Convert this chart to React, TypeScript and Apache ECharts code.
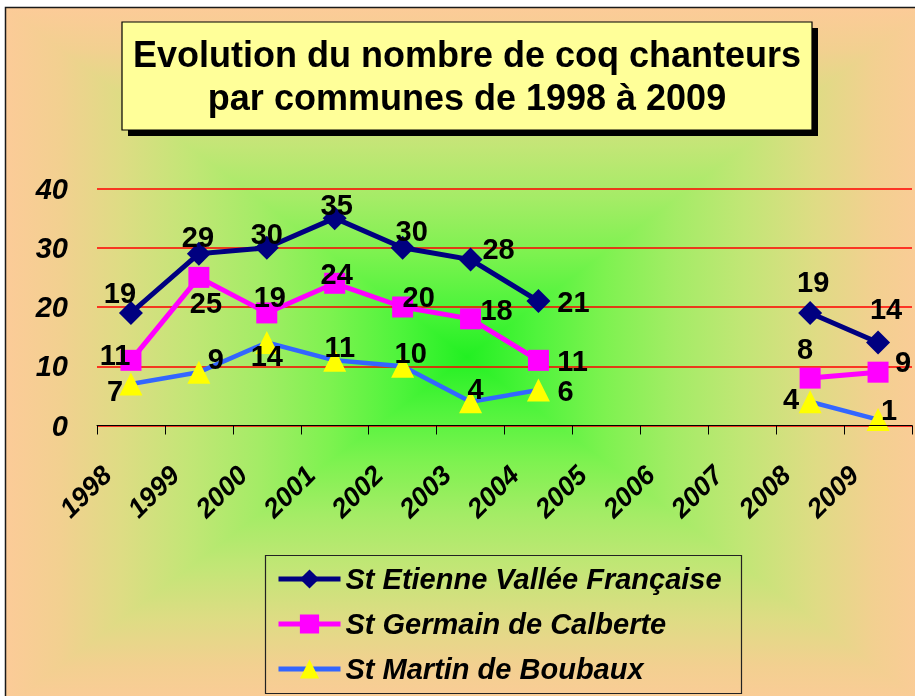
import React, { useEffect, useRef } from "react";
import * as echarts from "echarts";

const categories = ["1998", "1999", "2000", "2001", "2002", "2003", "2004", "2005", "2006", "2007", "2008", "2009"];
const etienne: (number | null)[] = [19, 29, 30, 35, 30, 28, 21, null, null, null, 19, 14];
const germain: (number | null)[] = [11, 25, 19, 24, 20, 18, 11, null, null, null, 8, 9];
const martin: (number | null)[] = [7, 9, 14, 11, 10, 4, 6, null, null, null, 4, 1];
const seriesNames = ["St Etienne Vallée Française", "St Germain de Calberte", "St Martin de Boubaux"];
const titleLines = ["Evolution du nombre de coq chanteurs", "par communes de 1998 à 2009"];

// label placement offsets (px) relative to each marker centre
const etienneOffsets = [[-11, -20], [-1, -17], [0, -14], [2, -13], [9, -17], [28, -11], [35, 1], null, null, null, [3, -31], [8, -34]];
const germainOffsets = [[-16, -5], [7, 26], [3, -16], [2, -9], [16, -10], [26, -9], [34, 1], null, null, null, [-5, -29], [25, -10]];
const martinOffsets = [[-16, 7], [17, -13], [0, 13.5], [5, -13], [8, -13], [5, -13], [27, 1], null, null, null, [-19, -3], [11, -10]];

const FONT = "'Liberation Sans', Arial, Helvetica, sans-serif";

// rectangular "from centre" gradient: edge -> centre
const edgeToCentre = [
  { offset: 0, color: "#FCCB98" },
  { offset: 0.12, color: "#F2D090" },
  { offset: 0.25, color: "#DEDC84" },
  { offset: 0.4, color: "#C2E676" },
  { offset: 0.55, color: "#A4EC66" },
  { offset: 0.7, color: "#7EF250" },
  { offset: 0.85, color: "#50F43C" },
  { offset: 1, color: "#22F022" },
];

function buildData(values: (number | null)[], offs: (number[] | null)[]) {
  return values.map((v, i) =>
    v == null ? "-" : { value: v, label: { offset: offs[i] as number[] } }
  );
}

export default function App() {
  const ref = useRef<HTMLDivElement>(null);
  useEffect(() => {
    if (!ref.current) return;
    const chart = echarts.init(ref.current, null, { renderer: "svg" });
    const x0 = 5, y0 = 7, x1 = 929, y1 = 707;
    const cx = (x0 + x1) / 2, cy = (y0 + y1) / 2;
    const mirrored = [
      ...edgeToCentre.map((s) => ({ offset: s.offset / 2, color: s.color })),
      ...edgeToCentre.slice(0, -1).reverse().map((s) => ({ offset: 1 - s.offset / 2, color: s.color })),
    ];
    const centreToEdge = edgeToCentre.slice().reverse().map((s) => ({ offset: 1 - s.offset, color: s.color }));

    const labelBase = {
      show: true,
      position: "inside",
      align: "center",
      verticalAlign: "middle",
      color: "#000",
      fontSize: 29,
      fontWeight: "bold",
      fontFamily: FONT,
      formatter: "{c}",
    };

    const option: any = {
      animation: false,
      textStyle: { fontFamily: FONT },
      graphic: [
        {
          type: "rect",
          z: -10,
          shape: { x: x0, y: y0, width: x1 - x0, height: y1 - y0 },
          style: {
            fill: { type: "linear", x: 0, y: 0, x2: 1, y2: 0, colorStops: mirrored },
            stroke: "none",
          },
        },
        {
          type: "polygon",
          z: -9,
          shape: { points: [[x0, y0], [x1, y0], [cx, cy]] },
          style: { fill: { type: "linear", x: 0, y: 0, x2: 0, y2: 1, colorStops: edgeToCentre } },
        },
        {
          type: "polygon",
          z: -9,
          shape: { points: [[x0, y1], [x1, y1], [cx, cy]] },
          style: { fill: { type: "linear", x: 0, y: 0, x2: 0, y2: 1, colorStops: centreToEdge } },
        },
        {
          type: "rect",
          z: -8,
          shape: { x: x0 + 0.5, y: y0 + 0.5, width: x1 - x0, height: y1 - y0 },
          style: { fill: "none", stroke: "#1a1a1a", lineWidth: 1.5 },
        },
        {
          type: "rect",
          z: 10,
          shape: { x: 128, y: 28, width: 690, height: 108 },
          style: { fill: "#000" },
        },
        {
          type: "rect",
          z: 11,
          shape: { x: 122, y: 22, width: 690, height: 108 },
          style: { fill: "#FFFF99", stroke: "#000", lineWidth: 1.2 },
        },
        {
          type: "text",
          z: 12,
          x: 467,
          y: 54,
          style: {
            text: titleLines[0],
            align: "center",
            verticalAlign: "middle",
            fill: "#000",
            fontSize: 36,
            fontWeight: "bold",
            fontFamily: FONT,
          },
        },
        {
          type: "text",
          z: 12,
          x: 467,
          y: 97,
          style: {
            text: titleLines[1],
            align: "center",
            verticalAlign: "middle",
            fill: "#000",
            fontSize: 36,
            fontWeight: "bold",
            fontFamily: FONT,
          },
        },
        {
          type: "rect",
          z: 5,
          shape: { x: 265.5, y: 555.5, width: 476, height: 138 },
          style: { fill: "none", stroke: "#222", lineWidth: 1.2 },
        },
      ],
      grid: { left: 97, right: 3, top: 188.5, bottom: 270.5, containLabel: false },
      legend: {
        orient: "vertical",
        left: 276,
        top: 564.5,
        itemWidth: 62,
        itemHeight: 24,
        itemGap: 16,
        padding: 0,
        data: seriesNames,
        lineStyle: { width: 5 },
        textStyle: {
          color: "#000",
          fontSize: 29,
          fontWeight: "bold",
          fontStyle: "italic",
          fontFamily: FONT,
        },
      },
      xAxis: {
        type: "category",
        data: categories,
        boundaryGap: true,
        z: 3,
        axisLine: { show: true, lineStyle: { color: "#000", width: 1 } },
        axisTick: { show: true, length: 9, lineStyle: { color: "#000" } },
        splitLine: { show: false },
        axisLabel: {
          interval: 0,
          rotate: 45,
          margin: 21,
          padding: [0, 34, 0, 0],
          color: "#000",
          fontSize: 27,
          fontWeight: "bold",
          fontStyle: "italic",
          fontFamily: FONT,
        },
      },
      yAxis: {
        type: "value",
        min: 0,
        max: 40,
        interval: 10,
        axisLine: { show: false },
        axisTick: { show: false },
        splitLine: { show: true, lineStyle: { color: "#FF0000", width: 1.5 } },
        axisLabel: {
          margin: 29,
          color: "#000",
          fontSize: 29,
          fontWeight: "bold",
          fontStyle: "italic",
          fontFamily: FONT,
        },
      },
      series: [
        {
          name: seriesNames[0],
          type: "line",
          data: buildData(etienne, etienneOffsets),
          symbol: "diamond",
          symbolSize: 24,
          lineStyle: { color: "#000080", width: 5 },
          itemStyle: { color: "#000080" },
          label: labelBase,
          z: 4,
        },
        {
          name: seriesNames[1],
          type: "line",
          data: buildData(germain, germainOffsets),
          symbol: "rect",
          symbolSize: 21,
          lineStyle: { color: "#FF00FF", width: 5 },
          itemStyle: { color: "#FF00FF" },
          label: labelBase,
          z: 3,
        },
        {
          name: seriesNames[2],
          type: "line",
          data: buildData(martin, martinOffsets),
          symbol: "triangle",
          symbolSize: 23,
          lineStyle: { color: "#3366FF", width: 4.5 },
          itemStyle: { color: "#FFFF00" },
          label: labelBase,
          z: 2,
        },
      ],
    };
    chart.setOption(option);
    return () => chart.dispose();
  }, []);
  return (
    <div
      ref={ref}
      style={{ position: "fixed", left: 0, top: 0, width: 915, height: 696 }}
    />
  );
}
